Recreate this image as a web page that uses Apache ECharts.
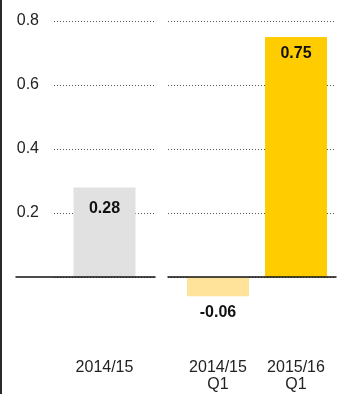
<!DOCTYPE html>
<html>
<head>
<meta charset="utf-8">
<script src="https://cdn.jsdelivr.net/npm/echarts@6/dist/echarts.min.js"></script>
<style>
html,body{margin:0;padding:0;background:#fff;}
#c{width:339px;height:394px;}
</style>
</head>
<body>
<div id="c"></div>
<script>
const categoriesLeft = ['2014/15'];
const valuesLeft = [0.28];
const categoriesRight = ['2014/15\nQ1', '2015/16\nQ1'];
const valuesRight = [-0.06, 0.75];
const yTicks = [0.2, 0.4, 0.6, 0.8];
const colorsRight = ['#ffe39a', '#ffcc00'];
const colorLeft = '#e1e1e1';

const FONT = '"Liberation Sans", Arial, Helvetica, sans-serif';
const TOP = 21, HEIGHT = 320;
const yBase = { type: 'value', min: -0.2, max: 0.8, interval: 0.2 };
const dotted = { show: true, showMinLine: false, lineStyle: { color: '#555', width: 1, type: [1, 2] } };

const chart = echarts.init(document.getElementById('c'), null, { renderer: 'canvas' });
chart.setOption({
  animation: false,
  backgroundColor: '#fff',
  textStyle: { fontFamily: FONT },
  graphic: [{ type: 'rect', left: 0, top: 0, shape: { width: 2, height: 394 }, style: { fill: '#2a2a2a' } }],
  grid: [
    { left: 16, width: 139, top: TOP, height: HEIGHT },
    { left: 54, width: 101, top: TOP, height: HEIGHT },
    { left: 168, width: 168, top: TOP, height: HEIGHT },
    { left: 179, width: 156, top: TOP, height: HEIGHT }
  ],
  xAxis: [
    { gridIndex: 0, type: 'category', data: [''], z: 10,
      axisLine: { show: true, onZero: true, lineStyle: { color: '#111', width: 1.5 } },
      axisTick: { show: false }, axisLabel: { show: false } },
    { gridIndex: 1, type: 'category', data: categoriesLeft,
      axisLine: { show: false }, axisTick: { show: false },
      axisLabel: { color: '#222', fontSize: 16, fontFamily: FONT, margin: 18, lineHeight: 17, verticalAlign: 'top' } },
    { gridIndex: 2, type: 'category', data: [''], z: 10,
      axisLine: { show: true, onZero: true, lineStyle: { color: '#111', width: 1.5 } },
      axisTick: { show: false }, axisLabel: { show: false } },
    { gridIndex: 3, type: 'category', data: categoriesRight,
      axisLine: { show: false }, axisTick: { show: false },
      axisLabel: { color: '#222', fontSize: 16, fontFamily: FONT, margin: 18, lineHeight: 17, verticalAlign: 'top', interval: 0 } }
  ],
  yAxis: [
    Object.assign({ gridIndex: 0, show: false }, yBase),
    Object.assign({ gridIndex: 1, axisLine: { show: false }, axisTick: { show: false }, splitLine: dotted,
      axisLabel: { color: '#222', fontSize: 16, fontFamily: FONT, margin: 15,
        formatter: v => yTicks.some(t => Math.abs(t - v) < 1e-9) ? v.toFixed(1) : '' } }, yBase),
    Object.assign({ gridIndex: 2, axisLine: { show: false }, axisTick: { show: false }, splitLine: dotted, axisLabel: { show: false } }, yBase),
    Object.assign({ gridIndex: 3, show: false, splitLine: { show: false } }, yBase)
  ],
  series: [
    { type: 'bar', xAxisIndex: 1, yAxisIndex: 1, barWidth: 62, z: 2,
      data: valuesLeft.map(v => ({ value: v, itemStyle: { color: colorLeft } })),
      label: { show: true, position: 'insideTop', distance: 13, color: '#111', fontWeight: 'bold', fontSize: 16, fontFamily: FONT, formatter: p => p.value.toFixed(2) } },
    { type: 'bar', xAxisIndex: 3, yAxisIndex: 3, barWidth: 62, z: 2,
      data: valuesRight.map((v, i) => ({ value: v, itemStyle: { color: colorsRight[i] },
        label: v < 0 ? { position: 'bottom', distance: 8 } : { position: 'insideTop', distance: 9 } })),
      label: { show: true, color: '#111', fontWeight: 'bold', fontSize: 16, fontFamily: FONT, formatter: p => p.value.toFixed(2) } }
  ]
});
</script>
</body>
</html>
